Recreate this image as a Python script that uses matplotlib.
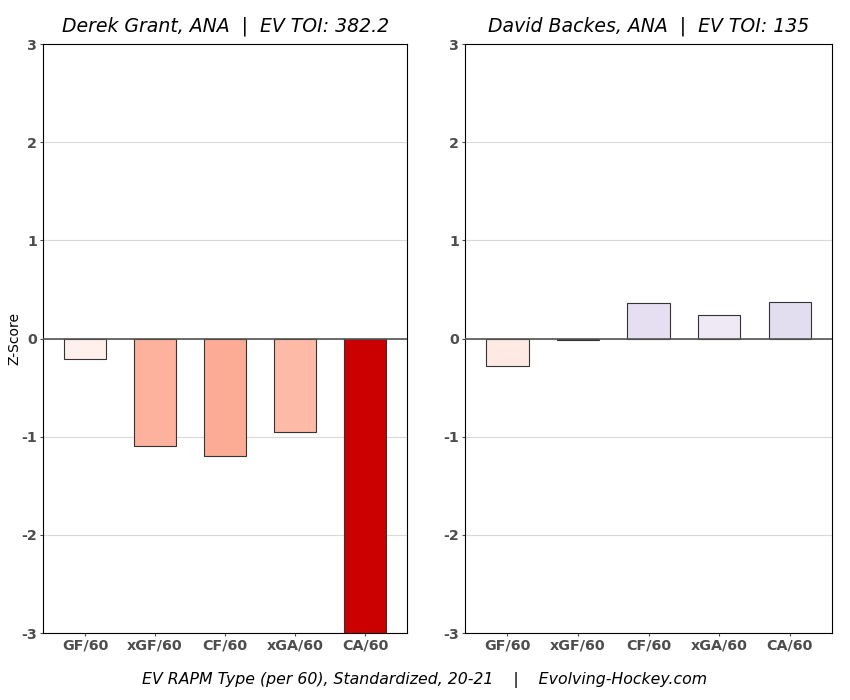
import matplotlib
matplotlib.use('Agg')
import matplotlib.pyplot as plt

plt.rcParams['axes.unicode_minus'] = False

metrics = ['GF/60', 'xGF/60', 'CF/60', 'xGA/60', 'CA/60']

grant_title = 'Derek Grant, ANA  |  EV TOI: 382.2'
grant_vals = [-0.21, -1.09, -1.20, -0.95, -3.6]
grant_colors = ['#fff0eb', '#fcb29c', '#fcac94', '#fdbaa6', '#cb0000']

backes_title = 'David Backes, ANA  |  EV TOI: 135'
backes_vals = [-0.28, -0.02, 0.36, 0.24, 0.37]
backes_colors = ['#feeae3', '#f7f4f9', '#e5dff1', '#eee9f5', '#e3ddf0']

footer = 'EV RAPM Type (per 60), Standardized, 20-21    |    Evolving-Hockey.com'

tick_grey = '#4d4d4d'

fig = plt.figure(figsize=(8.5, 7), dpi=100)
ax1 = fig.add_axes([0.0506, 0.0957, 0.4284, 0.8414])
ax2 = fig.add_axes([0.547, 0.0957, 0.432, 0.8414])

for ax, title, vals, colors in [(ax1, grant_title, grant_vals, grant_colors),
                                (ax2, backes_title, backes_vals, backes_colors)]:
    x = range(len(metrics))
    ax.set_axisbelow(True)
    ax.grid(axis='y', color='#d9d9d9', linewidth=0.8)
    ax.bar(x, vals, width=0.6, color=colors, edgecolor='#333333', linewidth=0.8, zorder=2)
    ax.axhline(0, color='#555555', linewidth=1.2, zorder=3)
    ax.set_ylim(-3, 3)
    ax.set_xlim(-0.6, 4.6)
    ax.set_xticks(list(x))
    ax.set_xticklabels(metrics)
    ax.set_yticks([-3, -2, -1, 0, 1, 2, 3])
    ax.tick_params(axis='both', colors=tick_grey, labelsize=10.3, length=2.2, pad=2)
    for lab in ax.get_xticklabels() + ax.get_yticklabels():
        lab.set_fontweight('bold')
        lab.set_color(tick_grey)
    for sp in ax.spines.values():
        sp.set_color('black')
        sp.set_linewidth(0.8)
    ax.set_title(title, fontsize=13.6, style='italic', pad=9)

ax1.set_ylabel('Z-Score', fontsize=10)
ax1.yaxis.set_label_coords(-0.06, 0.5)

fig.text(0.5, 0.023, footer, ha='center', fontsize=11.3, style='italic')

fig.savefig('out.png', dpi=100)
